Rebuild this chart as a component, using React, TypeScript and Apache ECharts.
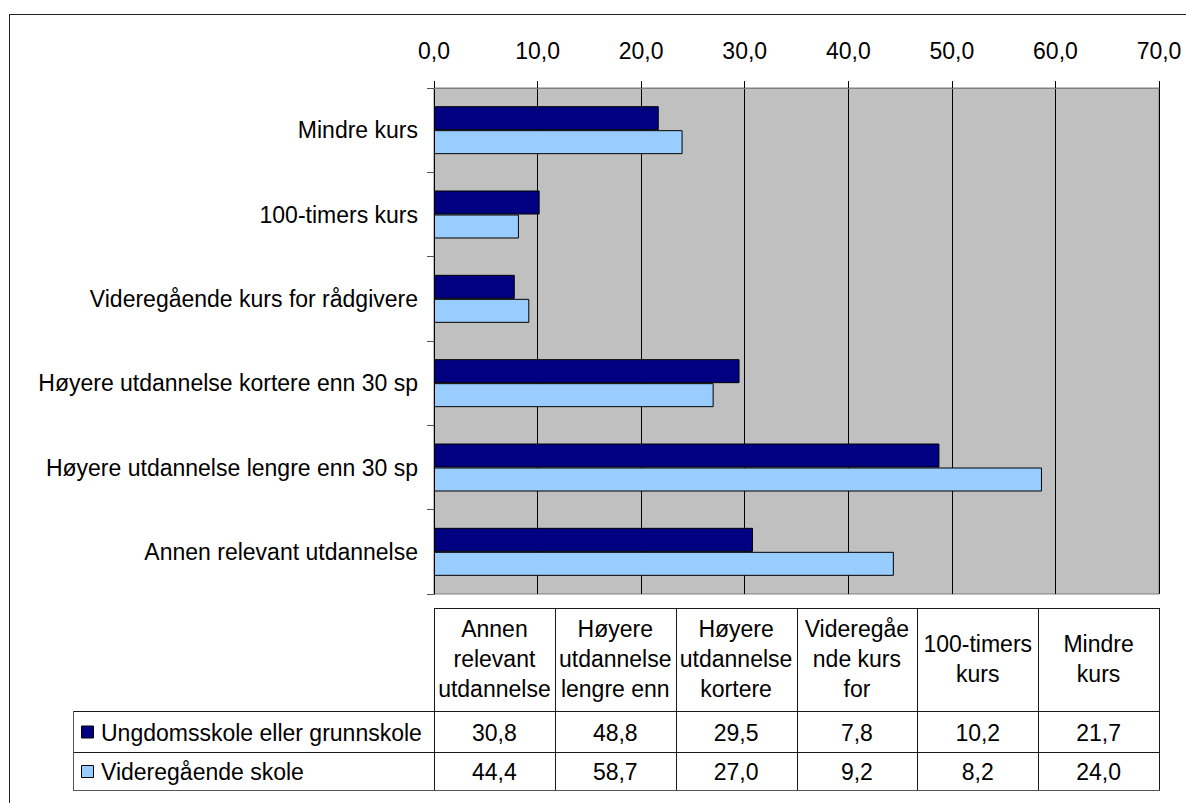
import React, { useEffect, useRef } from 'react';
import * as echarts from 'echarts';

const categories = [
  'Annen relevant utdannelse',
  'Høyere utdannelse lengre enn 30 sp',
  'Høyere utdannelse kortere enn 30 sp',
  'Videregående kurs for rådgivere',
  '100-timers kurs',
  'Mindre kurs',
];
const tableHeaders = [
  'Annen\nrelevant\nutdannelse',
  'Høyere\nutdannelse\nlengre enn',
  'Høyere\nutdannelse\nkortere',
  'Videregåe\nnde kurs\nfor',
  '100-timers\nkurs',
  'Mindre\nkurs',
];
const seriesNames = ['Ungdomsskole eller grunnskole', 'Videregående skole'];
const ungdomsskole = [30.8, 48.8, 29.5, 7.8, 10.2, 21.7];
const videregaende = [44.4, 58.7, 27.0, 9.2, 8.2, 24.0];
const seriesColors = ['#000080', '#99CCFF'];
const axisMin = 0;
const axisMax = 70;
const axisInterval = 10;

const FONT = '"Liberation Sans", Arial, Helvetica, sans-serif';
const FS = 23;

const fmt = (v: number) => v.toFixed(1).replace('.', ',');

export default function App() {
  const ref = useRef<HTMLDivElement>(null);

  useEffect(() => {
    if (!ref.current) return;
    const chart = echarts.init(ref.current, undefined, { renderer: 'svg' });

    const W = 1186;
    const H = 803;
    const plotL = 434;
    const plotR = 1159;
    const plotT = 88;
    const plotB = 594;
    const tableTop = 608;
    const headerBottom = 711;
    const row1Bottom = 752;
    const row2Bottom = 790;
    const legendLeft = 73;
    const colW = (plotR - plotL) / categories.length;
    const lineColor = '#1a1a1a';

    const g: any[] = [];
    const hline = (x1: number, x2: number, y: number, stroke = lineColor) =>
      g.push({ type: 'line', silent: true, shape: { x1, y1: y + 0.5, x2, y2: y + 0.5 }, style: { stroke, lineWidth: 1 } });
    const vline = (x: number, y1: number, y2: number, stroke = lineColor) =>
      g.push({ type: 'line', silent: true, shape: { x1: x + 0.5, y1, x2: x + 0.5, y2 }, style: { stroke, lineWidth: 1 } });

    // outer chart frame (cropped at right/bottom)
    hline(9, W, 14, '#222');
    vline(9, 14, H, '#222');

    // header row
    hline(plotL, plotR + 1, tableTop);
    for (let i = 0; i <= categories.length; i++) {
      const x = Math.round(plotL + i * colW);
      vline(x, tableTop, row2Bottom + 1);
    }
    // data rows
    hline(legendLeft, plotR + 1, headerBottom);
    hline(legendLeft, plotR + 1, row1Bottom);
    hline(legendLeft, plotR + 1, row2Bottom, '#555');
    vline(legendLeft, headerBottom, row2Bottom + 1, '#555');

    // header texts
    tableHeaders.forEach((t, i) => {
      g.push({
        type: 'text',
        silent: true,
        x: plotL + (i + 0.5) * colW,
        y: (tableTop + headerBottom) / 2 - 1,
        style: {
          text: t,
          fill: '#000',
          fontSize: FS,
          fontFamily: FONT,
          lineHeight: 30,
          align: 'center',
          verticalAlign: 'middle',
        },
      });
    });

    const rows = [ungdomsskole, videregaende];
    const rowCenters = [(headerBottom + row1Bottom) / 2 + 1, (row1Bottom + row2Bottom) / 2 + 1];
    rows.forEach((vals, r) => {
      // legend key
      g.push({
        type: 'rect',
        silent: true,
        shape: { x: 81.5, y: rowCenters[r] - 6.5, width: 12, height: 12 },
        style: { fill: seriesColors[r], stroke: '#000', lineWidth: 1 },
      });
      g.push({
        type: 'text',
        silent: true,
        x: 101,
        y: rowCenters[r],
        style: {
          text: seriesNames[r],
          fill: '#000',
          fontSize: FS,
          fontFamily: FONT,
          align: 'left',
          verticalAlign: 'middle',
        },
      });
      vals.forEach((v, i) => {
        g.push({
          type: 'text',
          silent: true,
          x: plotL + (i + 0.5) * colW,
          y: rowCenters[r],
          style: {
            text: fmt(v),
            fill: '#000',
            fontSize: FS,
            fontFamily: FONT,
            align: 'center',
            verticalAlign: 'middle',
          },
        });
      });
    });

    chart.setOption({
      animation: false,
      backgroundColor: '#ffffff',
      textStyle: { fontFamily: FONT },
      grid: {
        left: plotL,
        right: W - plotR,
        top: plotT,
        bottom: H - plotB,
        show: true,
        backgroundColor: '#C0C0C0',
        borderColor: '#808080',
        borderWidth: 1,
      },
      xAxis: {
        type: 'value',
        position: 'top',
        min: axisMin,
        max: axisMax,
        interval: axisInterval,
        axisLine: { show: true, lineStyle: { color: '#808080', width: 1 } },
        axisTick: { show: true, length: 7, lineStyle: { color: '#000', width: 1 } },
        axisLabel: {
          formatter: (v: number) => fmt(v),
          color: '#000',
          fontSize: FS,
          fontFamily: FONT,
          margin: 26,
        },
        splitLine: { show: true, lineStyle: { color: '#000', width: 1 } },
      },
      yAxis: {
        type: 'category',
        data: categories,
        axisLine: { show: true, lineStyle: { color: '#000', width: 1 } },
        axisTick: { show: true, length: 7, lineStyle: { color: '#555', width: 1 } },
        axisLabel: {
          color: '#000',
          fontSize: FS,
          fontFamily: FONT,
          margin: 16,
        },
        splitLine: { show: false },
      },
      series: [
        {
          name: seriesNames[0],
          type: 'bar',
          data: ungdomsskole,
          barWidth: 24,
          barGap: '0%',
          itemStyle: { color: seriesColors[0], borderColor: '#000', borderWidth: 1 },
        },
        {
          name: seriesNames[1],
          type: 'bar',
          data: videregaende,
          barWidth: 24,
          barGap: '0%',
          itemStyle: { color: seriesColors[1], borderColor: '#000', borderWidth: 1 },
        },
      ],
      graphic: { elements: g },
    });

    return () => chart.dispose();
  }, []);

  return (
    <div
      ref={ref}
      style={{ position: 'absolute', left: 0, top: 0, width: 1186, height: 803, background: '#fff' }}
    />
  );
}
